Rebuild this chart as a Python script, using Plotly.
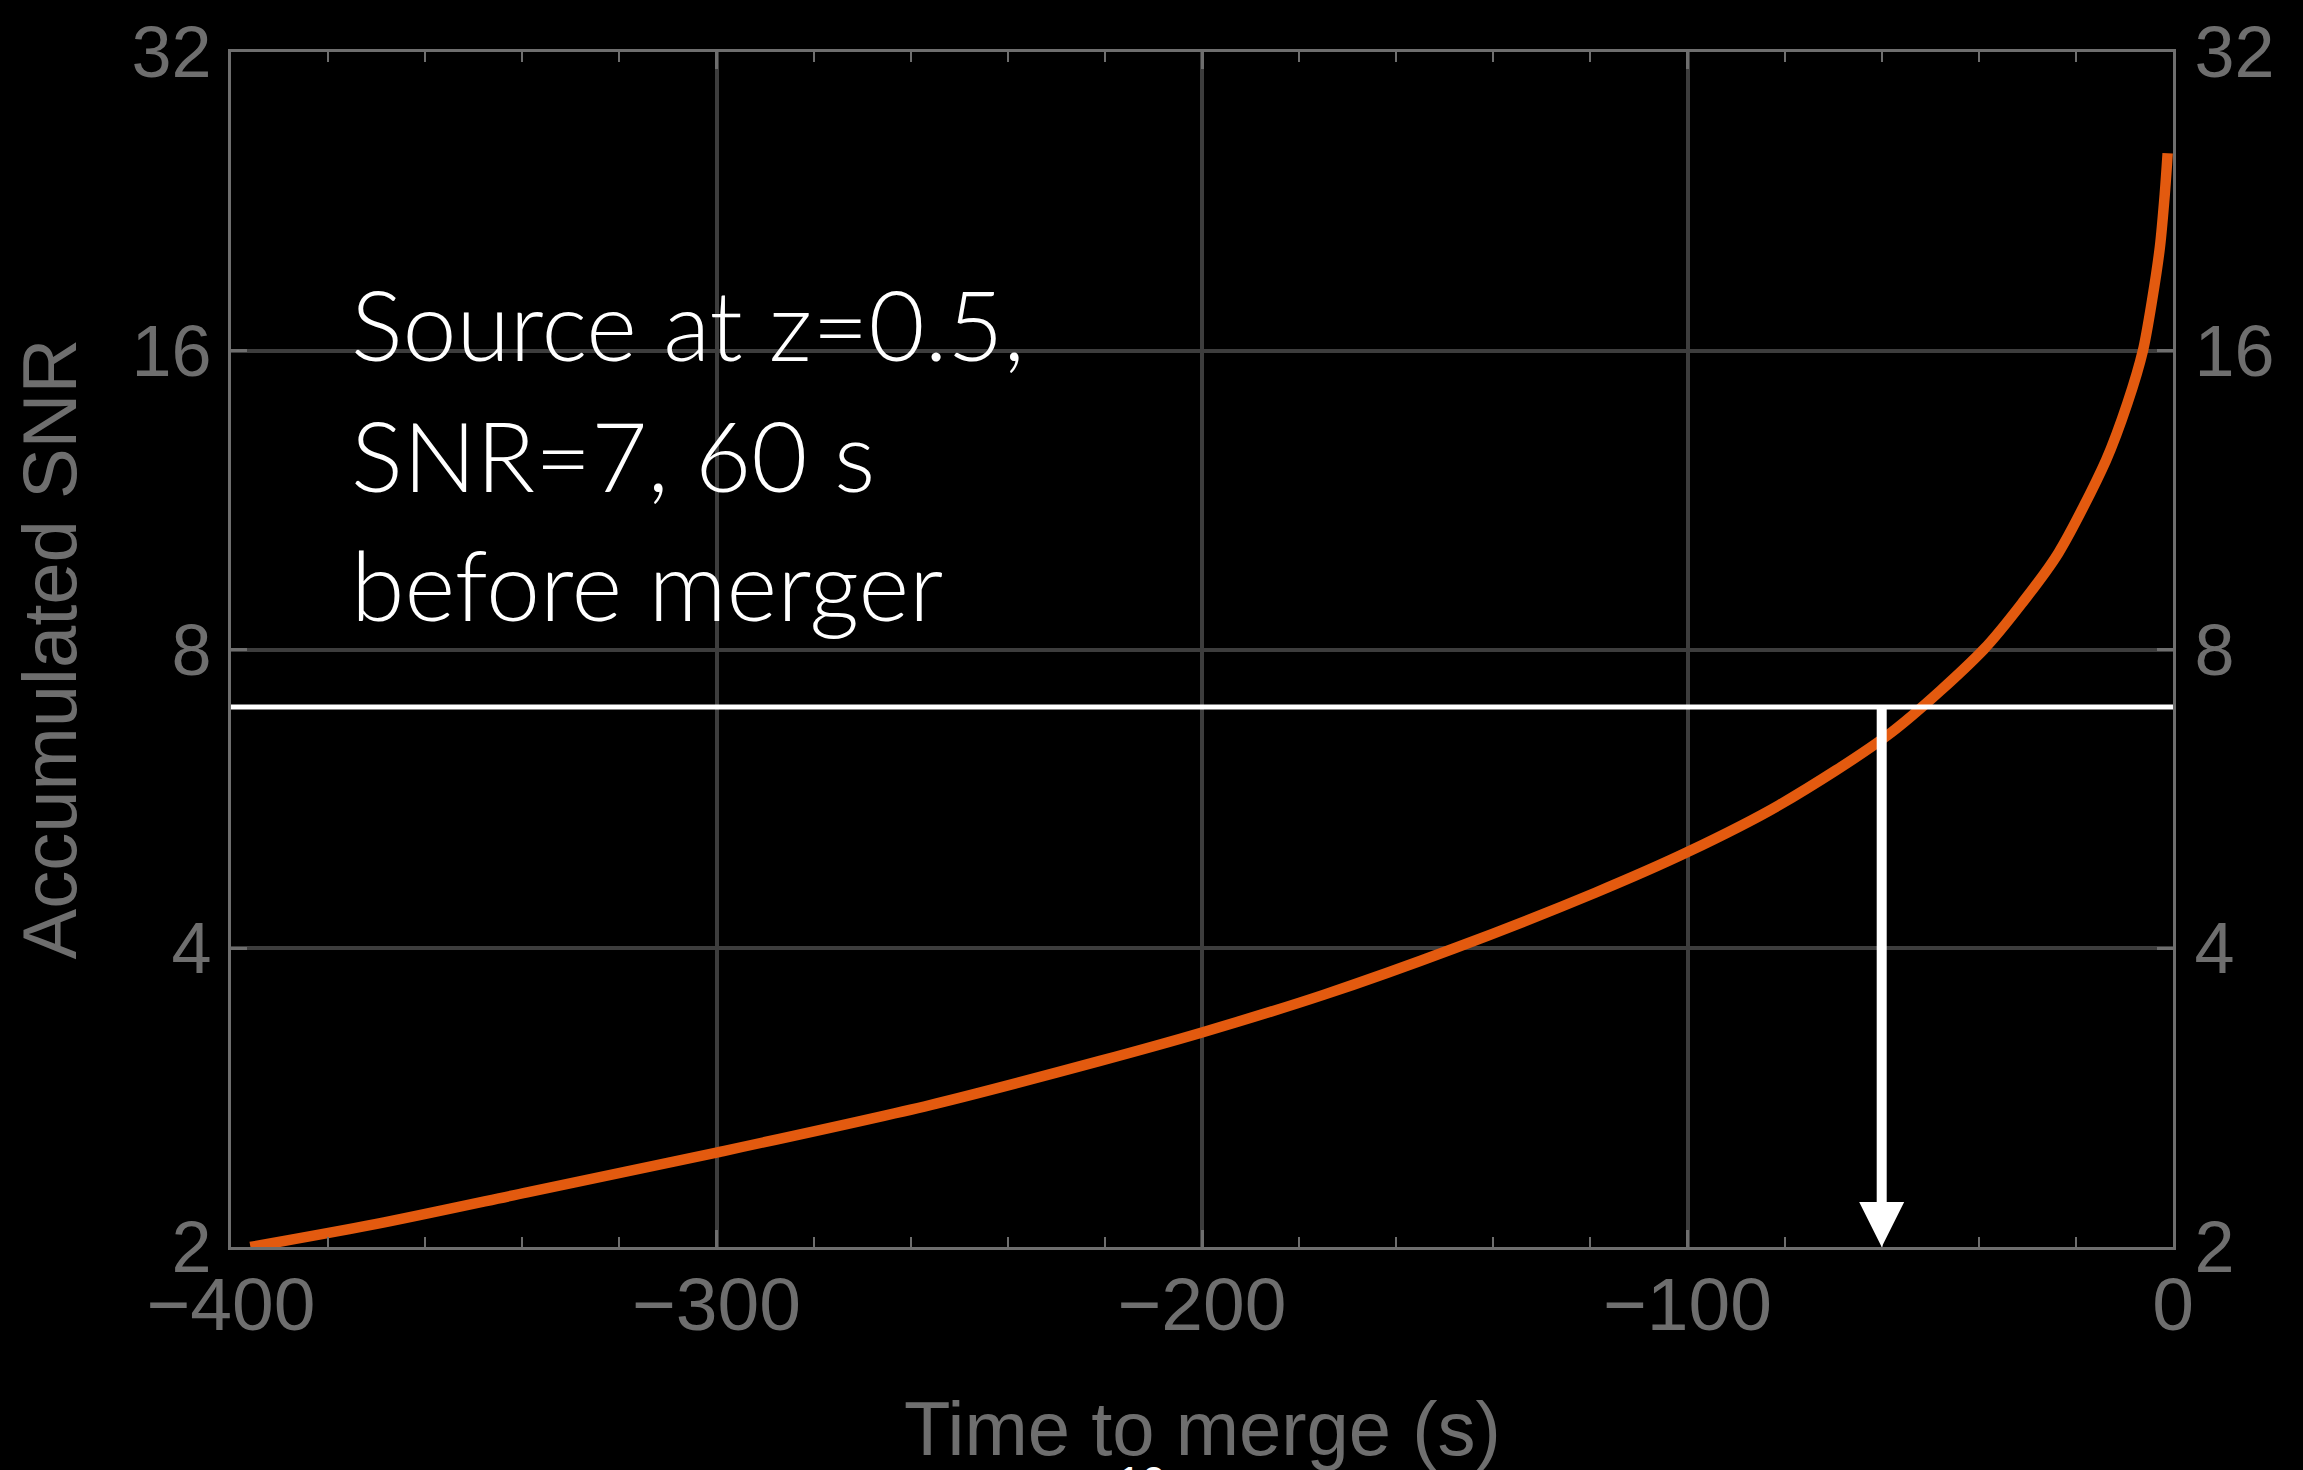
import math
import plotly.graph_objects as go

# Accumulated SNR of the inspiral versus time remaining before merger
time_to_merge = [-396, -370, -339, -300, -256, -221, -200, -175, -148, -119, -100,
                 -81, -58, -39, -31, -23.6, -13.8, -9.4, -6.2, -4.3, -2.7, -1.7, -1.1]
accumulated_snr = [2.00, 2.11, 2.27, 2.49, 2.78, 3.08, 3.29, 3.59, 4.00, 4.55, 5.00,
                   5.58, 6.60, 8.00, 8.92, 10.01, 12.41, 14.16, 16.0, 18.0, 20.35, 23.0, 25.3]

# Detection threshold and the moment it is reached
snr_threshold = 7
detection_time = -60

# Axis ticks
x_tickvals = [-400, -300, -200, -100, 0]
x_ticktext = ["\u2212400", "\u2212300", "\u2212200", "\u2212100", "0"]
y_tickvals = [2, 4, 8, 16, 32]
y_ticktext = ["2", "4", "8", "16", "32"]

caption_lines = ["Source at z=0.5,", "SNR=7, 60 s", "before merger"]

GREY = "#6e6e6e"
GRID = "#3d3d3d"
ORANGE = "#E35A0F"
LABEL_FONT = "Liberation Sans, Arial, Helvetica, sans-serif"

fig = go.Figure()

fig.add_trace(go.Scatter(
    x=time_to_merge, y=accumulated_snr, mode="lines",
    line=dict(color=ORANGE, width=10.5, shape="spline", smoothing=0.8),
    hoverinfo="skip", showlegend=False,
))

# horizontal threshold line
fig.add_trace(go.Scatter(
    x=[x_tickvals[0], x_tickvals[-1]], y=[snr_threshold, snr_threshold], mode="lines",
    line=dict(color="white", width=5),
    hoverinfo="skip", showlegend=False,
))

# invisible trace so the right-hand axis is drawn
fig.add_trace(go.Scatter(
    x=[x_tickvals[0]], y=[y_tickvals[0]], yaxis="y2", mode="markers",
    marker=dict(opacity=0), hoverinfo="skip", showlegend=False,
))

# arrow from the threshold crossing down to the time axis
fig.add_annotation(
    x=detection_time, y=math.log10(y_tickvals[0]),
    ax=detection_time, ay=math.log10(snr_threshold),
    xref="x", yref="y", axref="x", ayref="y",
    text="", showarrow=True, arrowhead=2, arrowsize=0.9, arrowwidth=10,
    arrowcolor="white", standoff=0, startstandoff=0,
)

# caption, one annotation per line
caption_y = [0.7725, 0.6633, 0.555]
for line, yy in zip(caption_lines, caption_y):
    fig.add_annotation(
        x=0.0608, y=yy, xref="paper", yref="paper",
        xanchor="left", yanchor="middle", showarrow=False,
        text=line,
        font=dict(family="Lato, Open Sans, sans-serif", size=97, color="white", weight=300),
    )

# axis titles
fig.add_annotation(
    x=-0.0937, y=0.5, xref="paper", yref="paper", textangle=-90,
    xanchor="center", yanchor="middle", showarrow=False,
    text="Accumulated SNR", font=dict(family=LABEL_FONT, size=76, color=GREY),
)
fig.add_annotation(
    x=0.5, y=-0.115, xref="paper", yref="paper",
    xanchor="center", yanchor="top", showarrow=False,
    text="Time to merge (s)", font=dict(family=LABEL_FONT, size=76, color=GREY),
)
# slide number
fig.add_annotation(
    x=0.469, y=-0.175, xref="paper", yref="paper",
    xanchor="center", yanchor="top", showarrow=False,
    text="10", font=dict(family=LABEL_FONT, size=44, color="white"),
)

y_range = [math.log10(y_tickvals[0]), math.log10(y_tickvals[-1])]
common_y = dict(
    type="log", range=y_range, tickvals=y_tickvals, ticktext=y_ticktext,
    ticks="inside", ticklen=16, tickwidth=2.5, tickcolor=GREY,
    showline=True, linecolor=GREY, linewidth=3, zeroline=False,
    tickfont=dict(family=LABEL_FONT, size=72, color=GREY),
)

fig.update_layout(
    width=2303, height=1470, autosize=False,
    paper_bgcolor="black", plot_bgcolor="black",
    margin=dict(l=231, r=130, t=47, b=223),
    showlegend=False,
    xaxis=dict(
        range=[x_tickvals[0], x_tickvals[-1]], tickvals=x_tickvals, ticktext=x_ticktext,
        ticks="inside", ticklen=17, tickwidth=2.5, tickcolor=GREY,
        showline=True, linecolor=GREY, linewidth=3, mirror="ticks",
        showgrid=True, gridcolor=GRID, gridwidth=4, zeroline=False,
        tickfont=dict(family=LABEL_FONT, size=75, color=GREY),
        ticklabelstandoff=-10,
        minor=dict(dtick=20, tick0=0, ticks="inside", ticklen=10, tickwidth=2,
                   tickcolor=GREY, showgrid=False),
    ),
    yaxis=dict(side="left", showgrid=True, gridcolor=GRID, gridwidth=4,
               ticklabelstandoff=2, **common_y),
    yaxis2=dict(side="right", overlaying="y", showgrid=False,
                ticklabelstandoff=4, **common_y),
)

fig.write_html("out.html", config={"displayModeBar": False})
